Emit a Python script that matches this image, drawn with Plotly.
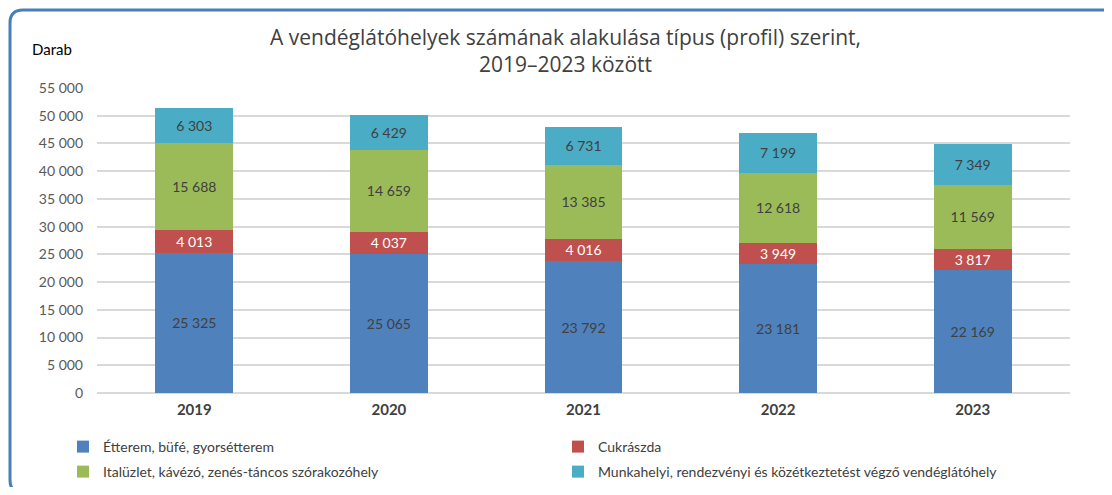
import plotly.graph_objects as go

years = ["2019", "2020", "2021", "2022", "2023"]
etterem = [25325, 25065, 23792, 23181, 22169]
cukraszda = [4013, 4037, 4016, 3949, 3817]
italuzlet = [15688, 14659, 13385, 12618, 11569]
munkahelyi = [6303, 6429, 6731, 7199, 7349]

series_names = [
    "Étterem, büfé, gyorsétterem",
    "Cukrászda",
    "Italüzlet, kávézó, zenés-táncos szórakozóhely",
    "Munkahelyi, rendezvényi és közétkeztetést végző vendéglátóhely",
]
series_values = [etterem, cukraszda, italuzlet, munkahelyi]
colors = ["#4F81BD", "#C0504D", "#9BBB59", "#4BACC6"]
text_colors = ["#404040", "#FFFFFF", "#404040", "#404040"]
legend_ids = ["legend", "legend", "legend2", "legend2"]

# page body has an 8px margin on every side; size the figure so nothing overflows
OFF = 8
W, H = 1112 - 2 * OFF, 495 - 2 * OFF
PL, PR, PT, PB = 97, 1070, 88, 393  # plot area in window pixels
ML, MT = PL - OFF, PT - OFF
PW, PH = PR - PL, PB - PT
MR, MB = W - ML - PW, H - MT - PH

def px(x):
    return (x - PL) / PW

def py(y):
    return (PB - y) / PH

FONT = "Lato, Open Sans, sans-serif"

fig = go.Figure()
for name, vals, c, tc, lg in zip(series_names, series_values, colors, text_colors, legend_ids):
    fig.add_trace(go.Bar(
        x=years, y=vals, name=name, legend=lg,
        marker=dict(color=c, line=dict(width=0)),
        text=vals, texttemplate="%{y:,d}", textposition="inside",
        insidetextanchor="middle", constraintext="none",
        textfont=dict(color=tc, size=14, family=FONT),
        hoverinfo="x+y+name",
    ))

# rounded border, open on the right (it runs off the picture there)
l, t, r, b, rad = 10, 10, 1116, 493, 13
path = (
    f"M {px(r)},{py(t + rad)} Q {px(r)},{py(t)} {px(r - rad)},{py(t)} "
    f"L {px(l + rad)},{py(t)} Q {px(l)},{py(t)} {px(l)},{py(t + rad)} "
    f"L {px(l)},{py(b - rad)} Q {px(l)},{py(b)} {px(l + rad)},{py(b)} "
    f"L {px(r - rad)},{py(b)}"
)

legend_common = dict(
    orientation="h", xanchor="left", yanchor="top",
    entrywidth=450, entrywidthmode="pixels", traceorder="normal",
    font=dict(size=14, color="#404040", family=FONT),
    bgcolor="rgba(0,0,0,0)", borderwidth=0,
)

fig.update_layout(
    width=W, height=H,
    margin=dict(l=ML, r=MR, t=MT, b=MB, autoexpand=False),
    paper_bgcolor="white", plot_bgcolor="white",
    barmode="stack", bargap=0.6,
    separators=", ",
    font=dict(family=FONT, color="#595959", size=14),
    showlegend=True,
    legend=dict(x=px(63), y=py(431), **legend_common),
    legend2=dict(x=px(63), y=py(456), **legend_common),
    xaxis=dict(
        tickfont=dict(size=15, color="#404040", family=FONT, weight="bold"),
        showgrid=False, showline=False, ticks="", ticklabelstandoff=6,
    ),
    yaxis=dict(
        range=[0, 55000], dtick=5000, tickformat=",d",
        gridcolor="#D9D9D9", gridwidth=1.5, zeroline=True, zerolinecolor="#D9D9D9",
        zerolinewidth=1.5, showline=False, ticks="", ticklabelstandoff=13,
        tickfont=dict(size=14, color="#595959", family=FONT),
    ),
    shapes=[dict(type="path", xref="paper", yref="paper", path=path,
                 line=dict(color="#4A7EBB", width=3), fillcolor="rgba(0,0,0,0)",
                 layer="above")],
    annotations=[
        dict(text="A vendéglátóhelyek számának alakulása típus (profil) szerint,<br>2019–2023 között",
             xref="paper", yref="paper", x=px(565), y=py(50), xanchor="center", yanchor="middle",
             showarrow=False, font=dict(size=21, color="#404040", family="Open Sans, sans-serif")),
        dict(text="Darab", xref="paper", yref="paper", x=px(30), y=py(49),
             xanchor="left", yanchor="middle", showarrow=False,
             font=dict(size=15, color="#000000", family=FONT)),
    ],
)

fig.write_html("out.html")
